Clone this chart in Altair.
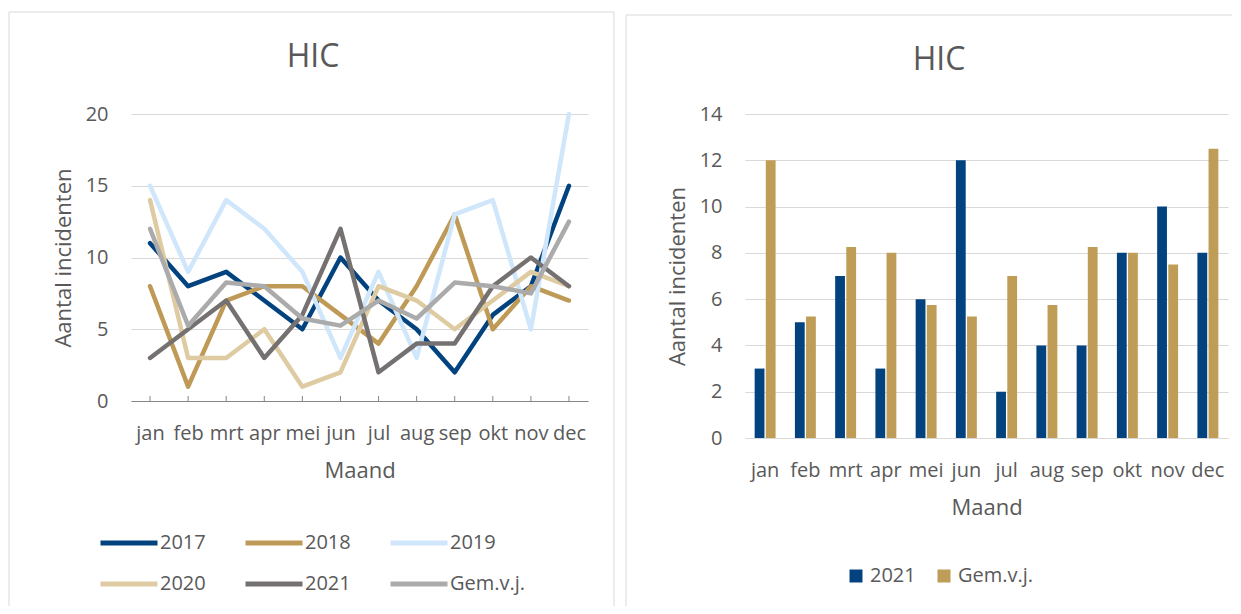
import altair as alt
import pandas as pd

months = ["jan", "feb", "mrt", "apr", "mei", "jun", "jul", "aug", "sep", "okt", "nov", "dec"]

line_series = ["2017", "2018", "2019", "2020", "2021", "Gem.v.j."]
v2017 = [11, 8, 9, 7, 5, 10, 7, 5, 2, 6, 8, 15]
v2018 = [8, 1, 7, 8, 8, 6, 4, 8, 13, 5, 8, 7]
v2019 = [15, 9, 14, 12, 9, 3, 9, 3, 13, 14, 5, 20]
v2020 = [14, 3, 3, 5, 1, 2, 8, 7, 5, 7, 9, 8]
v2021 = [3, 5, 7, 3, 6, 12, 2, 4, 4, 8, 10, 8]
vgem = [12, 5.25, 8.25, 8, 5.75, 5.25, 7, 5.75, 8.25, 8, 7.5, 12.5]
line_colors = ["#02437F", "#BF9A57", "#D0E6FB", "#DFCBA2", "#757171", "#ABABAB"]

bar_series = ["2021", "Gem.v.j."]
bar_colors = ["#02437F", "#BF9D57"]

left_ticks = [0, 5, 10, 15, 20]
right_ticks = [0, 2, 4, 6, 8, 10, 12, 14]

FONT = "Open Sans"
TXT = "#595959"
GRID = "#D9D9D9"
AXIS = "#868686"

rows = []
for name, vals in zip(line_series, [v2017, v2018, v2019, v2020, v2021, vgem]):
    for m, v in zip(months, vals):
        rows.append({"Maand": m, "Reeks": name, "Aantal": v})
line_df = pd.DataFrame(rows)

brows = []
for name, vals in zip(bar_series, [v2021, vgem]):
    for m, v in zip(months, vals):
        brows.append({"Maand": m, "Serie": name, "Aantal": v})
bar_df = pd.DataFrame(brows)

one = pd.DataFrame({"k": [0]})
month_df = pd.DataFrame({"Maand": months})


def hrule(x1, x2, y):
    return alt.Chart(one).mark_rule(color=GRID, strokeWidth=1).encode(
        x=alt.value(x1), x2=alt.value(x2), y=alt.value(y))


def vrule(x, y1, y2):
    return alt.Chart(one).mark_rule(color=GRID, strokeWidth=1).encode(
        x=alt.value(x), y=alt.value(y1), y2=alt.value(y2))


def x_axis(domain_color):
    return alt.Axis(title="Maand", labelAngle=0, ticks=False, tickSize=0, labelPadding=22,
                    labelFontSize=20, labelColor=TXT, labelFont=FONT, labelOverlap=False,
                    domainColor=domain_color, titleFontSize=22, titleFont=FONT,
                    titleColor=TXT, titleFontWeight="normal", titlePadding=17, grid=False)


def y_axis(vals):
    return alt.Axis(values=vals, title="Aantal incidenten", domain=False, ticks=False,
                    tickSize=0, labelPadding=23, labelFontSize=20, labelColor=TXT,
                    labelFont=FONT, gridColor=GRID, gridWidth=1, titleFontSize=22,
                    titleFont=FONT, titleColor=TXT, titleFontWeight="normal",
                    titlePadding=10)


# ---------- left panel: line chart ----------
LW, LH = 457, 287
x_line = alt.X("Maand:N", sort=months, scale=alt.Scale(type="point", padding=0.5),
               axis=x_axis(AXIS))
y_line = alt.Y("Aantal:Q", scale=alt.Scale(domain=[0, 20], nice=False), axis=y_axis(left_ticks))

tick_marks = alt.Chart(month_df).mark_rule(color=AXIS, strokeWidth=1).encode(
    x=x_line, y=alt.value(LH - 5), y2=alt.value(LH))

lines = alt.Chart(line_df).mark_line(strokeWidth=4.5, strokeJoin="round", strokeCap="round").encode(
    x=x_line,
    y=y_line,
    color=alt.Color("Reeks:N", sort=line_series,
                    scale=alt.Scale(domain=line_series, range=line_colors),
                    legend=alt.Legend(title=None, orient="none", legendX=-33, legendY=398,
                                      direction="horizontal", columns=3, columnPadding=29,
                                      rowPadding=-10, symbolType="stroke", symbolSize=3249,
                                      symbolStrokeWidth=5, labelOffset=0,
                                      labelFontSize=20, labelFont=FONT, labelColor=TXT,
                                      labelLimit=300, padding=0)),
)

left = alt.layer(
    hrule(-122, 483, -102), vrule(-122, -102, 492), vrule(483, -102, 492),
    tick_marks, lines,
).properties(
    width=LW, height=LH,
    title=alt.TitleParams(text="HIC", fontSize=32, font=FONT, color=TXT, fontWeight="normal",
                          anchor="middle", baseline="alphabetic", offset=-87.5, dx=-46.5),
)

# ---------- right panel: bar chart ----------
RW, RH = 483, 324
bars = alt.Chart(bar_df).mark_bar().encode(
    x=alt.X("Maand:N", sort=months, scale=alt.Scale(paddingInner=0.48, paddingOuter=0.24),
            axis=x_axis(GRID)),
    xOffset=alt.XOffset("Serie:N", sort=bar_series, scale=alt.Scale(paddingInner=0.12)),
    y=alt.Y("Aantal:Q", scale=alt.Scale(domain=[0, 14], nice=False), axis=y_axis(right_ticks)),
    color=alt.Color("Serie:N", sort=bar_series,
                    scale=alt.Scale(domain=bar_series, range=bar_colors),
                    legend=alt.Legend(title=None, orient="none", legendX=101, legendY=452,
                                      direction="horizontal", columns=2, columnPadding=18,
                                      symbolType="square", symbolSize=169, symbolStrokeWidth=0,
                                      labelOffset=4, labelFontSize=20, labelFont=FONT,
                                      labelColor=TXT, labelLimit=300, padding=0)),
)

right = alt.layer(
    hrule(-119, 487, -99), vrule(-119, -99, 492),
    bars,
).properties(
    width=RW, height=RH,
    title=alt.TitleParams(text="HIC", fontSize=32, font=FONT, color=TXT, fontWeight="normal",
                          anchor="middle", baseline="alphabetic", offset=-87.5, dx=-47.5),
)

chart = alt.hconcat(left, right, spacing=10).resolve_scale(
    x="independent", y="independent", color="independent"
).resolve_legend(color="independent").properties(
    padding={"top": 3, "left": 0, "right": 0, "bottom": 0}
).configure_view(stroke="transparent")

chart.save("out.html", embed_options={"renderer": "svg", "actions": False})
